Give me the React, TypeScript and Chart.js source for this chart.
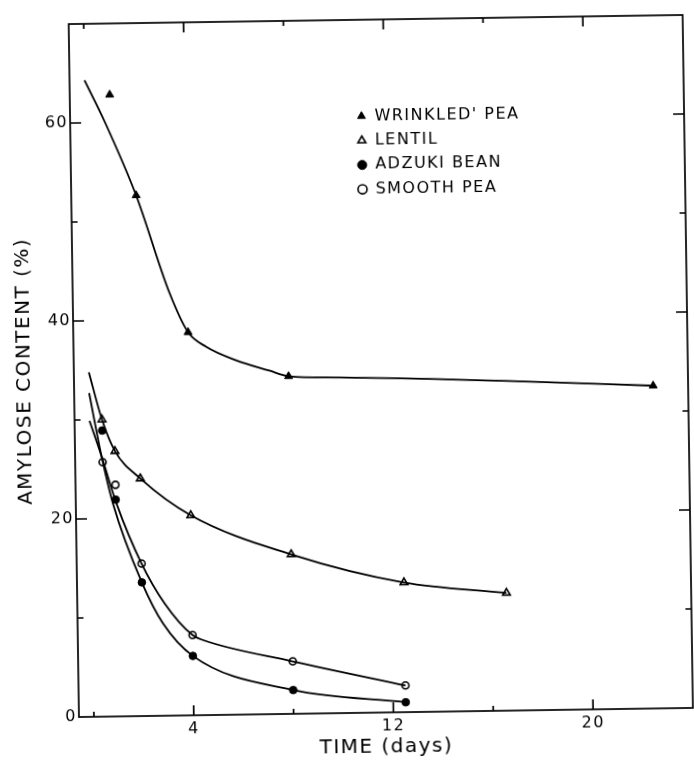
import React, { useEffect, useRef } from 'react';
import { Chart, registerables } from 'chart.js';

Chart.register(...registerables);

// ---- axis ticks ----
const xTickValues = [0, 4, 8, 12, 16, 20];
const xLabelValues = [4, 12, 20];
const yTickValues = [0, 10, 20, 30, 40, 50, 60];
const yLabelValues = [0, 20, 40, 60];

// ---- series names ----
const seriesNames = ["WRINKLED' PEA", 'LENTIL', 'ADZUKI BEAN', 'SMOOTH PEA'];

// ---- measured points (time in days, amylose %) ----
const wrinkledDays = [1, 2, 4, 8, 22.6];
const wrinkledValues = [62.8, 52.6, 38.7, 34.1, 32.6];

const lentilDays = [0.5, 1, 2, 4, 8, 12.5, 16.6];
const lentilValues = [30.0, 26.8, 24.0, 20.2, 16.1, 13.1, 11.9];

const adzukiDays = [0.5, 1, 2, 4, 8, 12.5];
const adzukiValues = [28.9, 21.9, 13.5, 6.0, 2.4, 1.0];

const smoothDays = [0.5, 1, 2, 4, 8, 12.5];
const smoothValues = [25.7, 23.4, 15.4, 8.1, 5.3, 2.7];

// ---- hand-drawn fitted curves (positions) ----
const wrinkledFitDays = [0, 0.8, 2, 3.28, 4, 4.72, 5.9, 7.23, 8, 10, 16.8, 22.6];
const wrinkledFitValues = [64.3, 60.0, 52.6, 42.7, 38.7, 37.2, 35.8, 34.7, 34.1, 33.9, 33.3, 32.6];

const lentilFitDays = [0, 0.5, 1, 2, 4, 8, 12.5, 16.6];
const lentilFitValues = [34.8, 30.0, 26.8, 24.0, 20.2, 16.1, 13.1, 11.9];

const adzukiFitDays = [0, 0.46, 0.89, 2, 2.82, 4, 8, 12.5];
const adzukiFitValues = [32.7, 26.3, 21.5, 13.5, 9.34, 6.0, 2.4, 1.0];

const smoothFitDays = [0, 0.46, 1.03, 2, 2.9, 4, 4.4, 8, 12.5];
const smoothFitValues = [29.9, 26.3, 21.5, 15.4, 11.35, 8.1, 7.6, 5.3, 2.7];

const INK = '#000000';
const FAMILY = "'DejaVu Sans', 'Liberation Sans', sans-serif";

const toXY = (days: number[], vals: number[]) => days.map((d, i) => ({ x: d, y: vals[i] }));

const curveDataset = (days: number[], vals: number[]) => ({
  data: toXY(days, vals),
  showLine: true,
  borderColor: INK,
  borderWidth: 1.8,
  pointRadius: 0,
  pointHoverRadius: 0,
  cubicInterpolationMode: 'monotone' as const,
  fill: false,
});

const markerDataset = (
  label: string,
  days: number[],
  vals: number[],
  style: string,
  filled: boolean,
  radius: number
) => ({
  label,
  data: toXY(days, vals),
  showLine: false,
  pointStyle: style,
  pointRadius: radius,
  pointHoverRadius: radius,
  pointBackgroundColor: filled ? INK : '#ffffff',
  pointBorderColor: INK,
  pointBorderWidth: filled ? 1 : 1.6,
});

const spacingPlugin = {
  id: 'letterSpacing',
  beforeDraw(chart: any) {
    chart.ctx.letterSpacing = '1.5px';
  },
  afterDraw(chart: any) {
    chart.ctx.letterSpacing = '0px';
  },
};

const legendPlacePlugin = {
  id: 'legendPlace',
  afterLayout(chart: any) {
    const lg = chart.legend;
    if (!lg) return;
    lg.left = 352;
    lg.top = 100;
    lg.width = 240;
    lg.height = 130;
    lg.right = lg.left + lg.width;
    lg.bottom = lg.top + lg.height;
  },
};

const frameTicksPlugin = {
  id: 'frameTicks',
  afterDatasetsDraw(chart: any) {
    const { ctx, chartArea: a, scales } = chart;
    const xs = scales.x;
    const ys = scales.y;
    ctx.save();
    ctx.strokeStyle = INK;
    ctx.lineWidth = 1.7;
    ctx.strokeRect(a.left, a.top, a.right - a.left, a.bottom - a.top);
    ctx.beginPath();
    xTickValues.forEach((v) => {
      const px = xs.getPixelForValue(v);
      const len = xLabelValues.includes(v) ? 10 : 5;
      ctx.moveTo(px, a.bottom);
      ctx.lineTo(px, a.bottom - len);
      ctx.moveTo(px, a.top);
      ctx.lineTo(px, a.top + len);
    });
    yTickValues.forEach((v) => {
      if (v === 0) return;
      const py = ys.getPixelForValue(v);
      const len = yLabelValues.includes(v) ? 11 : 6;
      ctx.moveTo(a.left, py);
      ctx.lineTo(a.left + len, py);
      ctx.moveTo(a.right, py);
      ctx.lineTo(a.right - len, py);
    });
    ctx.stroke();
    ctx.restore();
  },
};

export default function App() {
  const ref = useRef<HTMLCanvasElement>(null);

  useEffect(() => {
    if (!ref.current) return;
    const chart = new Chart(ref.current, {
      type: 'scatter',
      data: {
        datasets: [
          curveDataset(wrinkledFitDays, wrinkledFitValues),
          curveDataset(lentilFitDays, lentilFitValues),
          curveDataset(adzukiFitDays, adzukiFitValues),
          curveDataset(smoothFitDays, smoothFitValues),
          markerDataset(seriesNames[0], wrinkledDays, wrinkledValues, 'triangle', true, 4.6),
          markerDataset(seriesNames[1], lentilDays, lentilValues, 'triangle', false, 4.4),
          markerDataset(seriesNames[2], adzukiDays, adzukiValues, 'circle', true, 3.8),
          markerDataset(seriesNames[3], smoothDays, smoothValues, 'circle', false, 3.5),
        ] as any,
      },
      options: {
        animation: false,
        responsive: false,
        maintainAspectRatio: false,
        events: [],
        layout: { padding: { left: 0, top: 20, right: 3.5, bottom: 0 } },
        scales: {
          x: {
            type: 'linear',
            min: -0.6,
            max: 24,
            afterBuildTicks: (s: any) => {
              s.ticks = xTickValues.map((v) => ({ value: v }));
            },
            afterFit: (s: any) => {
              s.height = 48;
            },
            grid: { display: false, drawTicks: false },
            border: { display: false },
            ticks: {
              autoSkip: false,
              maxRotation: 0,
              padding: 4,
              color: INK,
              font: { family: FAMILY, size: 16 },
              callback: (v: any) => (xLabelValues.includes(Number(v)) ? String(v) : ''),
            },
            title: {
              display: true,
              text: 'TIME (days)',
              color: INK,
              font: { family: FAMILY, size: 20 },
              padding: { top: 0, bottom: 1 },
            },
          },
          y: {
            type: 'linear',
            min: 0,
            max: 70,
            afterBuildTicks: (s: any) => {
              s.ticks = yTickValues.map((v) => ({ value: v }));
            },
            afterFit: (s: any) => {
              s.width = 74;
            },
            grid: { display: false, drawTicks: false },
            border: { display: false },
            ticks: {
              autoSkip: false,
              padding: 2,
              color: INK,
              font: { family: FAMILY, size: 16 },
              callback: (v: any) => (yLabelValues.includes(Number(v)) ? String(v) : ''),
            },
            title: {
              display: true,
              text: 'AMYLOSE CONTENT (%)',
              color: INK,
              font: { family: FAMILY, size: 20 },
              padding: { top: 13, bottom: 0 },
            },
          },
        },
        plugins: {
          tooltip: { enabled: false },
          legend: {
            position: 'chartArea',
            align: 'start',
            labels: {
              usePointStyle: true,
              boxWidth: 10,
              boxHeight: 6.4,
              padding: 8.4,
              color: INK,
              font: { family: FAMILY, size: 16 },
              filter: (item: any) => !!item.text,
            },
          },
        },
      } as any,
      plugins: [spacingPlugin, legendPlacePlugin, frameTicksPlugin],
    });
    return () => chart.destroy();
  }, []);

  return (
    <div
      style={{
        position: 'absolute',
        left: 0,
        top: 0,
        width: 694,
        height: 761,
        overflow: 'hidden',
        background: '#ffffff',
      }}
    >
      <canvas
        ref={ref}
        width={694}
        height={761}
        style={{
          width: 694,
          height: 761,
          display: 'block',
          transform: 'rotate(-0.85deg)',
          transformOrigin: '50% 50%',
        }}
      />
    </div>
  );
}
